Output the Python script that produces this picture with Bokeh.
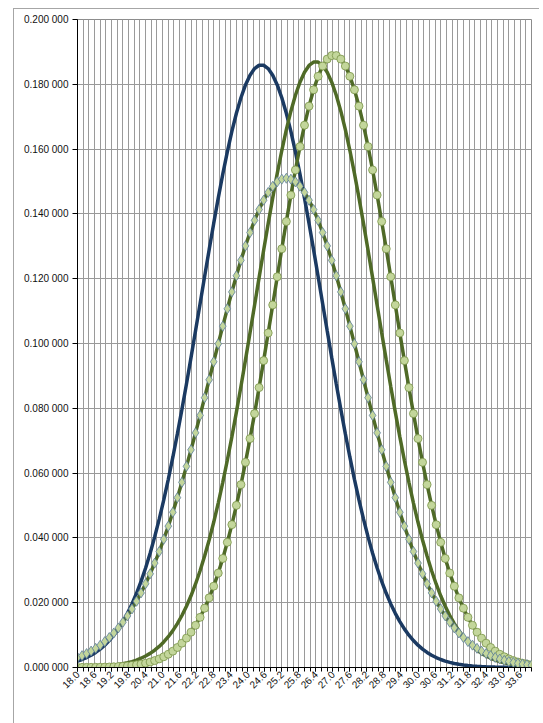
from math import pi
from bokeh.plotting import figure
from bokeh.models import Range1d, FixedTicker, Legend, LegendItem
from bokeh.embed import file_html
from bokeh.resources import INLINE

# ---------------- data ----------------
x_values = [
    18.00, 18.16, 18.32, 18.48, 18.64, 18.80, 18.96, 19.12, 19.28, 19.44,
    19.60, 19.76, 19.92, 20.08, 20.24, 20.40, 20.56, 20.72, 20.88, 21.04,
    21.20, 21.36, 21.52, 21.68, 21.84, 22.00, 22.16, 22.32, 22.48, 22.64,
    22.80, 22.96, 23.12, 23.28, 23.44, 23.60, 23.76, 23.92, 24.08, 24.24,
    24.40, 24.56, 24.72, 24.88, 25.04, 25.20, 25.36, 25.52, 25.68, 25.84,
    26.00, 26.16, 26.32, 26.48, 26.64, 26.80, 26.96, 27.12, 27.28, 27.44,
    27.60, 27.76, 27.92, 28.08, 28.24, 28.40, 28.56, 28.72, 28.88, 29.04,
    29.20, 29.36, 29.52, 29.68, 29.84, 30.00, 30.16, 30.32, 30.48, 30.64,
    30.80, 30.96, 31.12, 31.28, 31.44, 31.60, 31.76, 31.92, 32.08, 32.24,
    32.40, 32.56, 32.72, 32.88, 33.04, 33.20, 33.36, 33.52, 33.68, 33.84,
    34.00,
]

mai_t_p = [
    0.00198, 0.00247, 0.00307, 0.00379, 0.00465, 0.00568, 0.00689, 0.00832, 0.00998, 0.01192,
    0.01415, 0.01671, 0.01962, 0.02291, 0.02660, 0.03072, 0.03528, 0.04031, 0.04578, 0.05171,
    0.05809, 0.06490, 0.07210, 0.07966, 0.08752, 0.09563, 0.10391, 0.11229, 0.12067, 0.12896,
    0.13706, 0.14487, 0.15227, 0.15917, 0.16547, 0.17105, 0.17586, 0.17980, 0.18281, 0.18485,
    0.18587, 0.18587, 0.18485, 0.18281, 0.17980, 0.17586, 0.17105, 0.16547, 0.15917, 0.15227,
    0.14487, 0.13706, 0.12896, 0.12067, 0.11229, 0.10391, 0.09563, 0.08752, 0.07966, 0.07210,
    0.06490, 0.05809, 0.05171, 0.04578, 0.04031, 0.03528, 0.03072, 0.02660, 0.02291, 0.01962,
    0.01671, 0.01415, 0.01192, 0.00998, 0.00832, 0.00689, 0.00568, 0.00465, 0.00379, 0.00307,
    0.00247, 0.00198, 0.00158, 0.00125, 0.00099, 0.00077, 0.00060, 0.00047, 0.00036, 0.00028,
    0.00021, 0.00016, 0.00012, 0.00009, 0.00007, 0.00005, 0.00004, 0.00003, 0.00002, 0.00001,
    0.00001,
]

mai_t_fut = [
    0.00008, 0.00010, 0.00014, 0.00019, 0.00025, 0.00032, 0.00042, 0.00054, 0.00070, 0.00090,
    0.00114, 0.00145, 0.00183, 0.00229, 0.00286, 0.00354, 0.00436, 0.00534, 0.00651, 0.00788,
    0.00950, 0.01138, 0.01355, 0.01605, 0.01890, 0.02214, 0.02578, 0.02986, 0.03439, 0.03937,
    0.04482, 0.05075, 0.05714, 0.06396, 0.07120, 0.07881, 0.08675, 0.09494, 0.10333, 0.11182,
    0.12033, 0.12876, 0.13701, 0.14496, 0.15252, 0.15956, 0.16599, 0.17170, 0.17662, 0.18065,
    0.18373, 0.18582, 0.18687, 0.18687, 0.18582, 0.18373, 0.18065, 0.17662, 0.17170, 0.16599,
    0.15956, 0.15252, 0.14496, 0.13701, 0.12876, 0.12033, 0.11182, 0.10333, 0.09494, 0.08675,
    0.07881, 0.07120, 0.06396, 0.05714, 0.05075, 0.04482, 0.03937, 0.03439, 0.02986, 0.02578,
    0.02214, 0.01890, 0.01605, 0.01355, 0.01138, 0.00950, 0.00788, 0.00651, 0.00534, 0.00436,
    0.00354, 0.00286, 0.00229, 0.00183, 0.00145, 0.00114, 0.00090, 0.00070, 0.00054, 0.00042,
    0.00032,
]

mai_t_max_f = [
    0.00002, 0.00003, 0.00004, 0.00005, 0.00007, 0.00009, 0.00012, 0.00016, 0.00022, 0.00029,
    0.00038, 0.00049, 0.00064, 0.00082, 0.00105, 0.00134, 0.00169, 0.00213, 0.00266, 0.00331,
    0.00410, 0.00504, 0.00617, 0.00750, 0.00907, 0.01090, 0.01303, 0.01548, 0.01830, 0.02149,
    0.02510, 0.02914, 0.03365, 0.03863, 0.04409, 0.05004, 0.05645, 0.06333, 0.07065, 0.07836,
    0.08640, 0.09472, 0.10326, 0.11191, 0.12060, 0.12922, 0.13766, 0.14580, 0.15355, 0.16078,
    0.16738, 0.17326, 0.17831, 0.18246, 0.18563, 0.18778, 0.18886, 0.18886, 0.18778, 0.18563,
    0.18246, 0.17831, 0.17326, 0.16738, 0.16078, 0.15355, 0.14580, 0.13766, 0.12922, 0.12060,
    0.11191, 0.10326, 0.09472, 0.08640, 0.07836, 0.07065, 0.06333, 0.05645, 0.05004, 0.04409,
    0.03863, 0.03365, 0.02914, 0.02510, 0.02149, 0.01830, 0.01548, 0.01303, 0.01090, 0.00907,
    0.00750, 0.00617, 0.00504, 0.00410, 0.00331, 0.00266, 0.00213, 0.00169, 0.00134, 0.00105,
    0.00082,
]

mai_t_min_f = [
    0.00310, 0.00366, 0.00431, 0.00506, 0.00592, 0.00689, 0.00799, 0.00924, 0.01065, 0.01222,
    0.01397, 0.01592, 0.01807, 0.02044, 0.02303, 0.02585, 0.02892, 0.03222, 0.03578, 0.03958,
    0.04363, 0.04791, 0.05243, 0.05715, 0.06208, 0.06718, 0.07243, 0.07781, 0.08328, 0.08881,
    0.09436, 0.09989, 0.10535, 0.11071, 0.11591, 0.12091, 0.12567, 0.13013, 0.13425, 0.13801,
    0.14134, 0.14422, 0.14663, 0.14853, 0.14989, 0.15072, 0.15100, 0.15072, 0.14989, 0.14853,
    0.14663, 0.14422, 0.14134, 0.13801, 0.13425, 0.13013, 0.12567, 0.12091, 0.11591, 0.11071,
    0.10535, 0.09989, 0.09436, 0.08881, 0.08328, 0.07781, 0.07243, 0.06718, 0.06208, 0.05715,
    0.05243, 0.04791, 0.04363, 0.03958, 0.03578, 0.03222, 0.02892, 0.02585, 0.02303, 0.02044,
    0.01807, 0.01592, 0.01397, 0.01222, 0.01065, 0.00924, 0.00799, 0.00689, 0.00592, 0.00506,
    0.00431, 0.00366, 0.00310, 0.00261, 0.00219, 0.00184, 0.00153, 0.00127, 0.00105, 0.00087,
    0.00071,
]

series_names = ["mai-t-p", "mai-t-fut", "mai-t-max-f", "mai-t-min-f"]

x_tick_labels = ["18.0", "18.6", "19.2", "19.8", "20.4", "21.0", "21.6", "22.2", "22.8",
                 "23.4", "24.0", "24.6", "25.2", "25.8", "26.4", "27.0", "27.6", "28.2",
                 "28.8", "29.4", "30.0", "30.6", "31.2", "31.8", "32.4", "33.0", "33.6"]
y_tick_values = [0.00, 0.02, 0.04, 0.06, 0.08, 0.10, 0.12, 0.14, 0.16, 0.18, 0.20]
y_tick_labels = ["0.000 000", "0.020 000", "0.040 000", "0.060 000", "0.080 000",
                 "0.100 000", "0.120 000", "0.140 000", "0.160 000", "0.180 000",
                 "0.200 000"]

# ---------------- styles ----------------
BLUE = "#1b3a62"
GREEN = "#4f6a27"
LIGHT = "#c3d69b"
FONT = "Liberation Sans"

p = figure(frame_width=454, frame_height=648, x_range=Range1d(18, 34), y_range=Range1d(0, 0.2),
           output_backend="svg", toolbar_location=None,
           min_border_left=63, min_border_right=8, min_border_top=10, min_border_bottom=0)
p.styles = {"margin-left": "13px", "margin-top": "8px",
            "border-left": "1px solid #a6a6a6", "border-top": "1px solid #a6a6a6"}
p.outline_line_color = "#8c8c8c"
p.background_fill_color = "white"

x_major = [float(s) for s in x_tick_labels]
x_minor = [round(18 + 0.2 * k, 1) for k in range(81)]
p.xaxis.ticker = FixedTicker(ticks=x_major, minor_ticks=x_minor)
p.xaxis.major_label_overrides = {v: s for v, s in zip(x_major, x_tick_labels)}
p.xaxis.major_label_orientation = pi / 4
p.yaxis.ticker = FixedTicker(ticks=y_tick_values, minor_ticks=[])
p.yaxis.major_label_overrides = {v: s for v, s in zip(y_tick_values, y_tick_labels)}

for ax in (p.xaxis[0], p.yaxis[0]):
    ax.axis_line_color = "black"
    ax.axis_line_width = 1
    ax.major_tick_line_color = "black"
    ax.minor_tick_line_color = "black"
    ax.major_tick_in = 0
    ax.minor_tick_in = 0
    ax.major_label_text_font = FONT
    ax.major_label_text_font_size = "10px"
    ax.major_label_text_color = "#111111"
p.xaxis.major_tick_out = 4
p.xaxis.minor_tick_out = 4
p.xaxis.major_label_standoff = 1
p.yaxis.major_tick_out = 5
p.yaxis.minor_tick_out = 0
p.yaxis.major_label_standoff = 4

p.xgrid.grid_line_color = None
p.xgrid.minor_grid_line_color = "#9a9a9a"
p.ygrid.grid_line_color = "#9a9a9a"

r_p = p.line(x_values, mai_t_p, line_color=BLUE, line_width=3.5)
r_fut = p.line(x_values, mai_t_fut, line_color=GREEN, line_width=3.5)
r_max_l = p.line(x_values, mai_t_max_f, line_color=GREEN, line_width=3.5)
r_max_m = p.scatter(x_values, mai_t_max_f, marker="circle", size=8,
                    fill_color=LIGHT, line_color="#7a9447", line_width=0.8)
r_min_l = p.line(x_values, mai_t_min_f, line_color=GREEN, line_width=3.5)
r_min_m = p.scatter(x_values, mai_t_min_f, marker="diamond", size=10,
                    fill_color=LIGHT, line_color="#5d7f9c", line_width=0.8)

legend = Legend(items=[
    LegendItem(label=series_names[0], renderers=[r_p]),
    LegendItem(label=series_names[1], renderers=[r_fut]),
    LegendItem(label=series_names[2], renderers=[r_max_l, r_max_m]),
    LegendItem(label=series_names[3], renderers=[r_min_l, r_min_m]),
], orientation="horizontal", location="top_center")
legend.label_text_font = FONT
legend.label_text_font_size = "11px"
legend.label_text_font_style = "bold"
legend.label_standoff = 1
legend.glyph_width = 24
legend.glyph_height = 12
legend.label_height = 12
legend.spacing = 14
legend.padding = 0
legend.margin = 4
legend.border_line_color = None
legend.background_fill_alpha = 0
p.add_layout(legend, "below")

open("out.html", "w").write(file_html(p, INLINE))
